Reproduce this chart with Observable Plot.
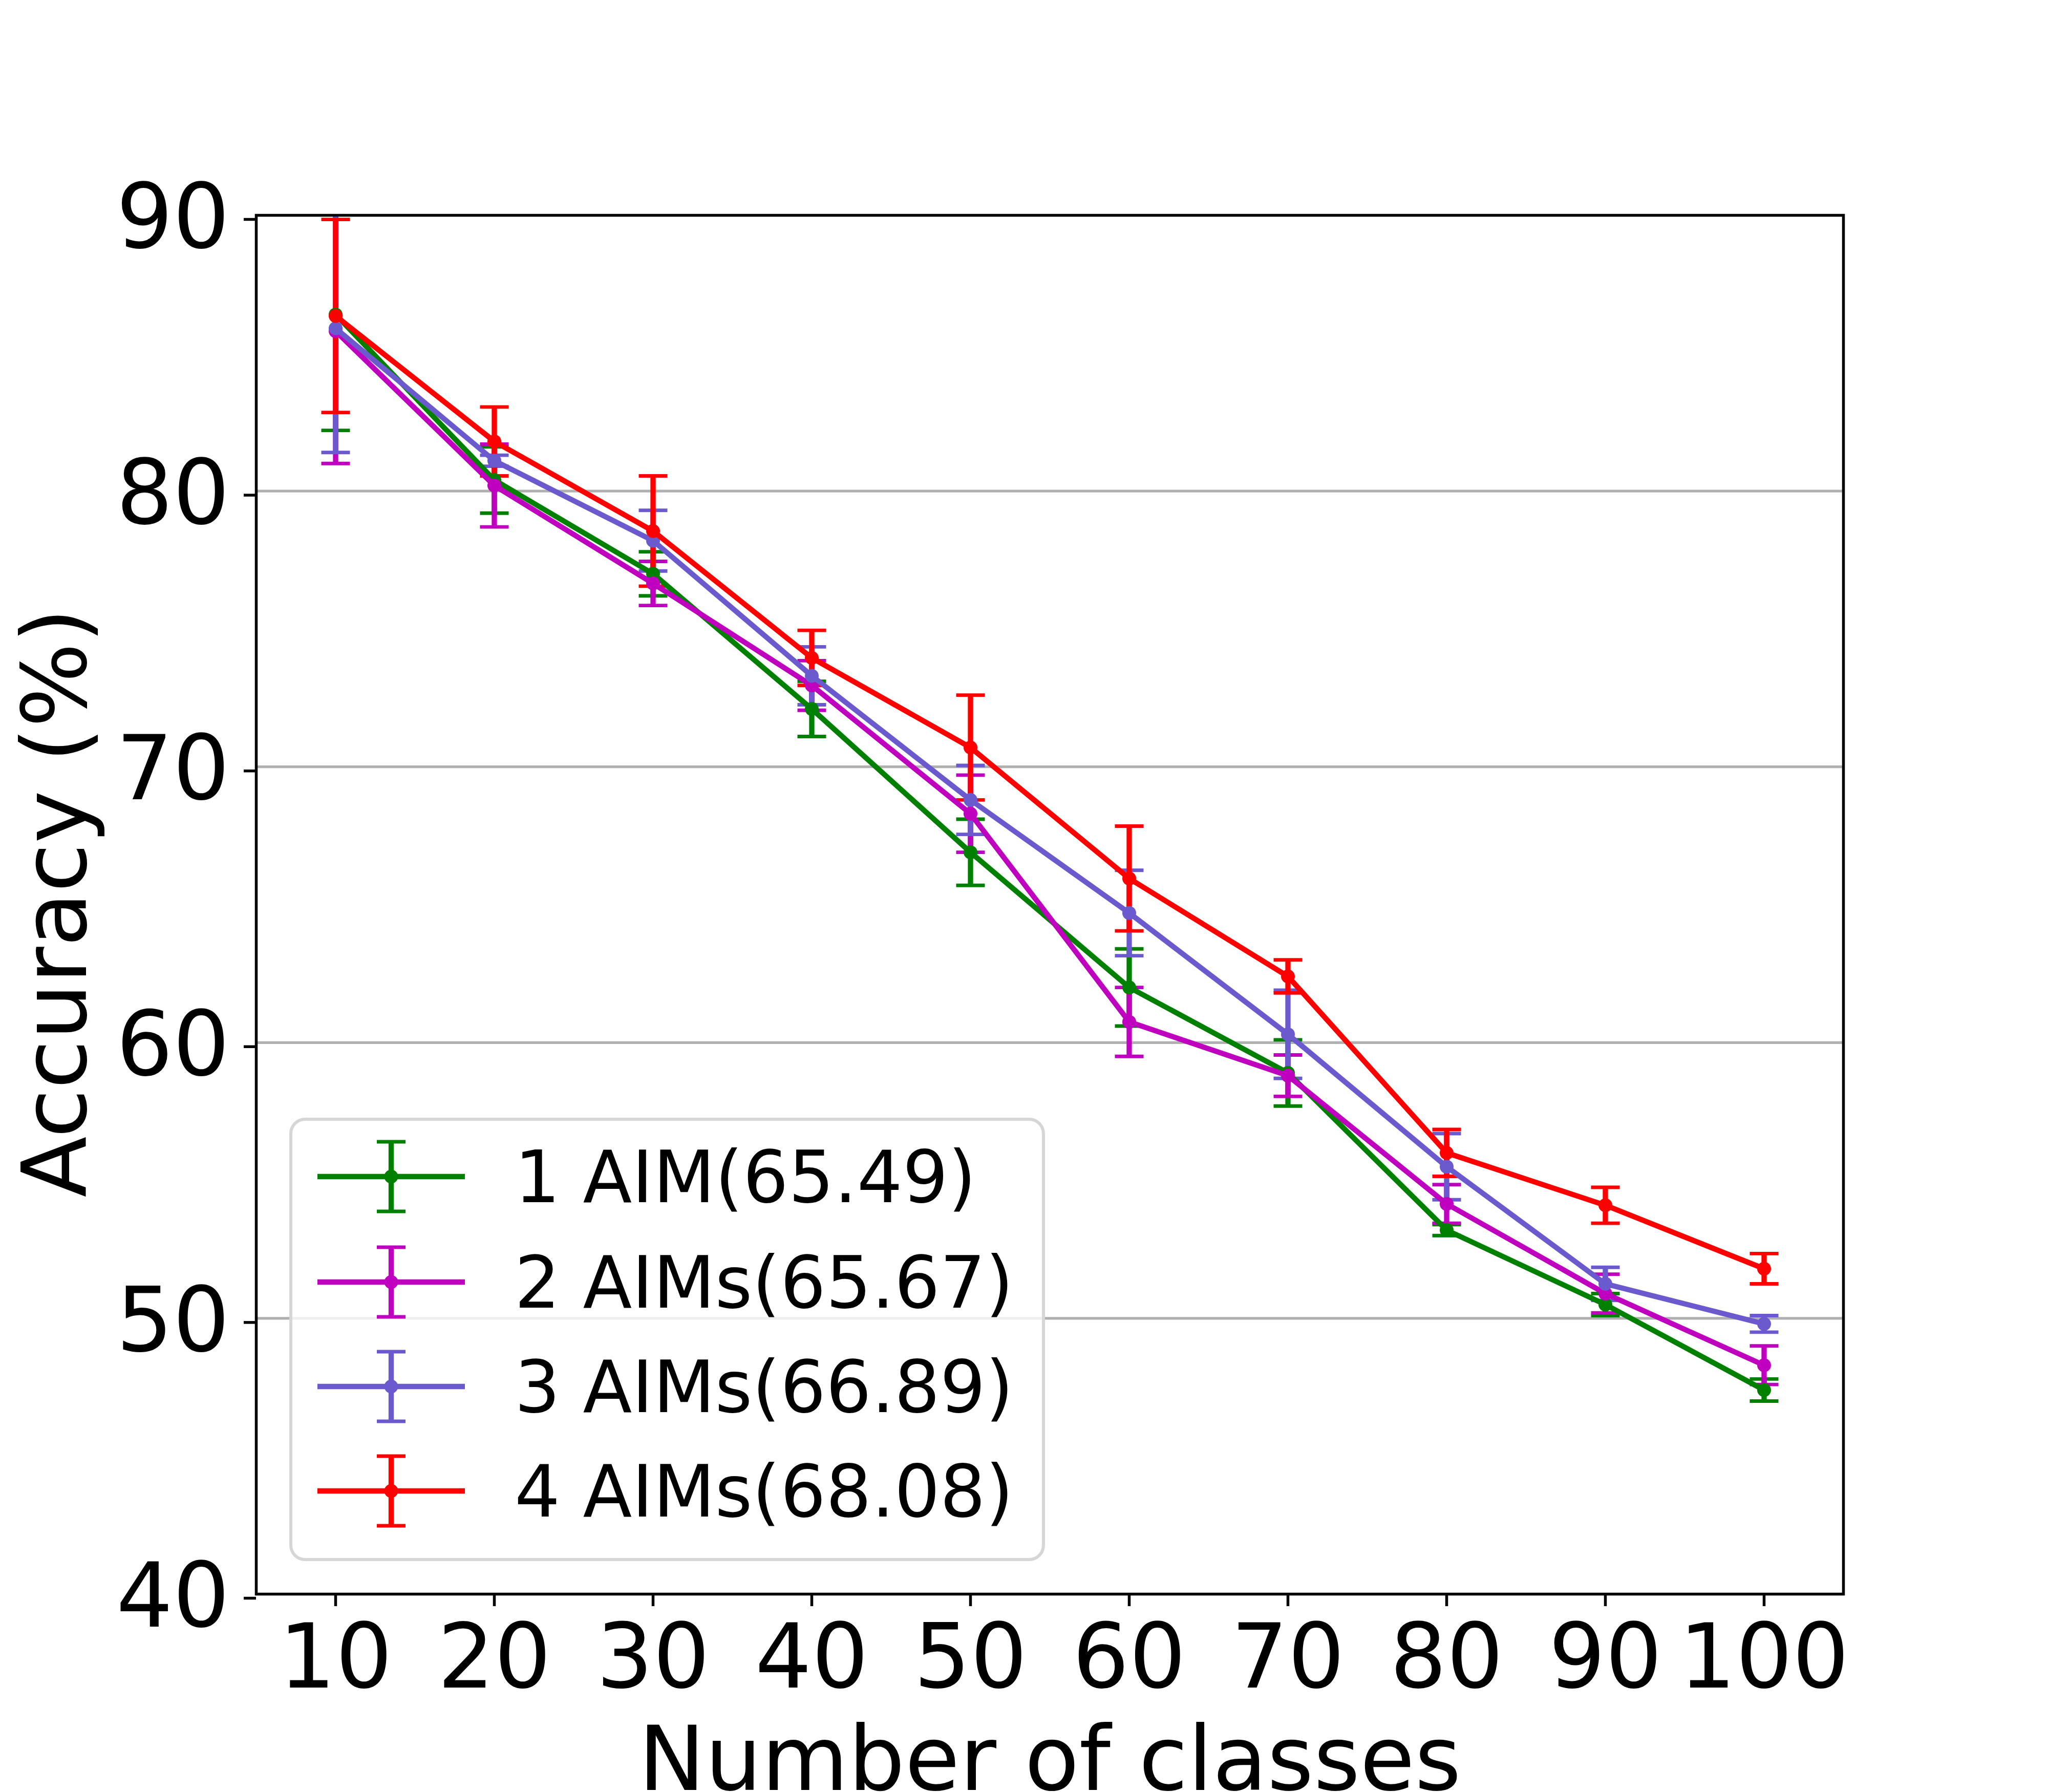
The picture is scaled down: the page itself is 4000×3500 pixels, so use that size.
<!DOCTYPE html>
<html><head><meta charset="utf-8">
<script src="https://cdn.jsdelivr.net/npm/d3@7"></script>
<script src="https://cdn.jsdelivr.net/npm/@observablehq/plot@0.6"></script>
<style>body{margin:0;background:#fff}</style>
</head><body><div id="chart"></div>
<script>
// ---- data ----
const classes = [10, 20, 30, 40, 50, 60, 70, 80, 90, 100];
const seriesNames = ["1 AIM(65.49)", "2 AIMs(65.67)", "3 AIMs(66.89)", "4 AIMs(68.08)"];
const seriesColors = ["#008000", "#bf00bf", "#6a5acd", "#ff0000"];
const acc1 = [86.4, 80.4, 77.0, 72.1, 66.9, 62.0, 58.9, 53.2, 50.5, 47.4];
const err1 = [4.2, 1.2, 0.8, 1.0, 1.2, 1.4, 1.2, 0.2, 0.4, 0.4];
const acc2 = [85.8, 80.2, 76.65, 72.95, 68.3, 60.75, 58.8, 54.15, 50.9, 48.3];
const err2 = [4.8, 1.5, 0.8, 0.9, 1.4, 1.25, 0.75, 0.7, 0.7, 0.7];
const acc3 = [85.9, 81.1, 78.2, 73.3, 68.8, 64.7, 60.3, 55.5, 51.25, 49.8];
const err3 = [4.5, 0.2, 1.1, 1.05, 1.25, 1.55, 1.6, 1.2, 0.6, 0.3];
const acc4 = [86.35, 81.8, 78.55, 73.95, 70.7, 65.95, 62.4, 56.0, 54.1, 51.8];
const err4 = [3.5, 1.25, 2.0, 1.0, 1.9, 1.9, 0.6, 0.85, 0.65, 0.55];
const yTicks = [40, 50, 60, 70, 80, 90];
const gridValues = [50, 60, 70, 80];
const xLabel = "Number of classes";
const yLabel = "Accuracy (%)";

const accs = [acc1, acc2, acc3, acc4];
const errs = [err1, err2, err3, err4];
const seriesData = accs.map((a, s) => a.map((v, i) => ({
  x: classes[i], y: v, lo: v - errs[s][i], hi: v + errs[s][i]
})));

// horizontal cap symbol (half-width = r)
const capSymbol = {
  draw(ctx, size) {
    const r = Math.sqrt(size / Math.PI);
    ctx.moveTo(-r, 0);
    ctx.lineTo(r, 0);
  }
};

const LW = 10.3;
const CW = 6.9;
const FS = 174;
const marks = [
  Plot.ruleY(gridValues, {stroke: "#b0b0b0", strokeWidth: 5.3})
];
seriesData.forEach((d, s) => {
  const c = seriesColors[s];
  marks.push(Plot.ruleX(d, {x: "x", y1: "lo", y2: "hi", stroke: c, strokeWidth: LW, strokeLinecap: "butt", clip: true}));
  marks.push(Plot.dot(d, {x: "x", y: "lo", symbol: capSymbol, r: 28, stroke: c, fill: "none", strokeWidth: CW, strokeLinecap: "butt", clip: true}));
  marks.push(Plot.dot(d, {x: "x", y: "hi", symbol: capSymbol, r: 28, stroke: c, fill: "none", strokeWidth: CW, strokeLinecap: "butt", clip: true}));
});
seriesData.forEach((d, s) => {
  const c = seriesColors[s];
  marks.push(Plot.line(d, {x: "x", y: "y", stroke: c, strokeWidth: LW, strokeLinecap: "square", clip: true}));
  marks.push(Plot.dot(d, {x: "x", y: "y", r: 13.5, fill: c, stroke: "none"}));
});
marks.push(
  Plot.frame({stroke: "black", strokeWidth: 5.5}),
  Plot.axisX({ticks: classes, tickSize: 24, tickPadding: 35, fontSize: FS, strokeWidth: 5.5, label: null, tickFormat: d => String(d)}),
  Plot.axisY({ticks: yTicks, tickSize: 24, tickPadding: 28, fontSize: FS, strokeWidth: 5.5, label: null, dy: 8, tickFormat: d => String(d)}),
  Plot.text([xLabel], {frameAnchor: "bottom", lineAnchor: "bottom", textAnchor: "middle", dy: 382, fontSize: FS, fill: "black"}),
  Plot.text([yLabel], {frameAnchor: "left", lineAnchor: "bottom", textAnchor: "middle", rotate: -90, dx: -333, dy: -4, fontSize: FS, fill: "black"})
);

const svg = Plot.plot({
  width: 4000, height: 3500,
  marginLeft: 500, marginRight: 400, marginTop: 420, marginBottom: 387,
  x: {domain: [5, 105]},
  y: {domain: [40, 90]},
  style: {fontFamily: "DejaVu Sans", background: "white", color: "black", overflow: "visible"},
  marks
});

// ---- legend (inside axes, lower left, matplotlib style) ----
const lg = d3.select(svg).append("g").attr("font-family", "DejaVu Sans").attr("text-anchor", "start");
lg.append("rect")
  .attr("x", 568).attr("y", 2186).attr("width", 1470).attr("height", 860)
  .attr("rx", 28).attr("ry", 28)
  .attr("fill", "white").attr("fill-opacity", 0.8)
  .attr("stroke", "#d6d6d6").attr("stroke-width", 6);
const rowY = [2298, 2504, 2708, 2912];
seriesNames.forEach((name, s) => {
  const c = seriesColors[s];
  const y = rowY[s];
  const g = lg.append("g");
  g.append("line").attr("x1", 764).attr("x2", 764).attr("y1", y - 68).attr("y2", y + 68)
    .attr("stroke", c).attr("stroke-width", LW);
  g.append("line").attr("x1", 736).attr("x2", 792).attr("y1", y - 68).attr("y2", y - 68)
    .attr("stroke", c).attr("stroke-width", CW);
  g.append("line").attr("x1", 736).attr("x2", 792).attr("y1", y + 68).attr("y2", y + 68)
    .attr("stroke", c).attr("stroke-width", CW);
  g.append("line").attr("x1", 620).attr("x2", 908).attr("y1", y).attr("y2", y)
    .attr("stroke", c).attr("stroke-width", LW);
  g.append("circle").attr("cx", 764).attr("cy", y).attr("r", 13.5).attr("fill", c);
  g.append("text").attr("x", 1005).attr("y", y + 50).attr("font-size", 140)
    .attr("text-anchor", "start").attr("fill", "black").text(name);
});

document.getElementById("chart").appendChild(svg);
</script>
</body></html>
